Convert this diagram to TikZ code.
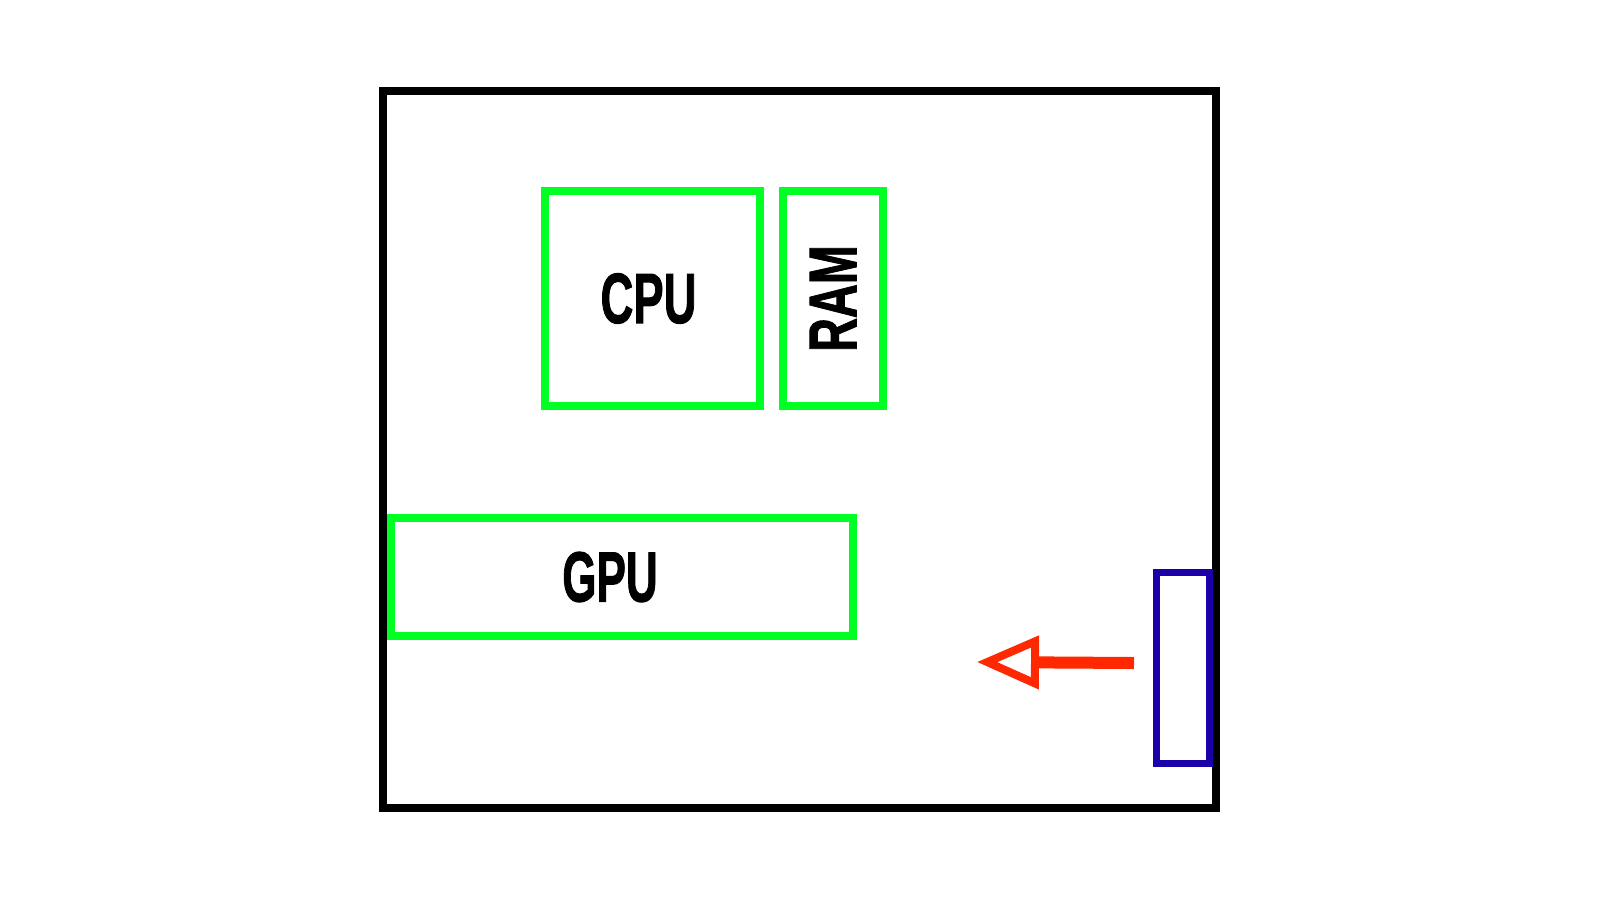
\documentclass[tikz,border=0pt]{standalone}
\usepackage{fontspec}
\setmainfont{Liberation Sans}
\newfontfamily\heavyfont{Liberation Sans}[FakeBold=1.6]
\usepackage{graphicx}
\usetikzlibrary{arrows.meta,positioning}
\definecolor{partgreen}{RGB}{0,255,34}
\definecolor{portblue}{RGB}{26,0,168}
\definecolor{arrowred}{RGB}{255,40,0}
\tikzset{part/.style={draw=partgreen, line width=8pt, rectangle, outer sep=0pt, inner sep=0pt, text centered}}
\tikzset{flow/.style={draw=arrowred, line width=12pt, -{Triangle[open, length=62pt, width=52pt, line width=8pt]}}}
\newcommand{\partlabel}[2]{\fontsize{71}{71}\heavyfont\bfseries\scalebox{#1}[1]{#2}}

\begin{document}
\begin{tikzpicture}[x=1pt, y=-1pt,
                    case/.style={draw=black, line width=8pt, rectangle, outer sep=0pt, inner sep=0pt},
                    portbox/.style={draw=portblue, line width=7pt, rectangle, outer sep=0pt, inner sep=0pt}]
    \useasboundingbox[fill=white] (0,0) rectangle (1600,900);
    % Nodes
    \node [case, minimum width=833pt, minimum height=717pt]             (tower) at (799.5,449.5) {};
    \node [part, minimum width=215pt, minimum height=215pt,
           label={[xshift=-4pt]center:\partlabel{0.64}{CPU}}]           (cpu)   at (652.5,298.5) {};
    \node [part, minimum width=100pt, minimum height=215pt, right=23pt of cpu] (ram)
          {\rotatebox{90}{\fontsize{71}{71}\heavyfont\bfseries\scalebox{0.66}[0.95]{RAM}}};
    \node [part, minimum width=462pt, minimum height=118pt,
           label={[xshift=-12pt]center:\partlabel{0.62}{GPU}}]          (gpu)   at (622,577)     {};
    \node [portbox, minimum width=53pt, minimum height=191pt]           (port)  at (1182.5,667.5) {};
    \coordinate (tail) at (1134,663);
    \coordinate (tip)  at (977,662);

    % Paths
    \path [flow] (tail) -- (tip);
\end{tikzpicture}
\end{document}
